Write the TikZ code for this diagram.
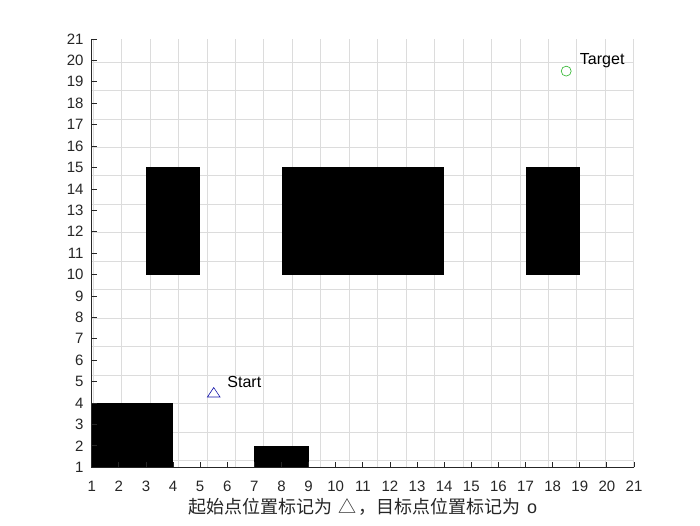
\documentclass[tikz,border=0pt]{standalone}
\usepackage{fontspec}
\setmainfont{Liberation Sans}
\newfontfamily\cjk{Noto Sans CJK SC}
\definecolor{gridgray}{RGB}{220,220,220}
\definecolor{axisgray}{RGB}{38,38,38}
\definecolor{startblue}{RGB}{20,20,170}
\definecolor{targetgreen}{RGB}{40,180,40}
\begin{document}
\begin{tikzpicture}[x=1pt,y=1pt,
  gridline/.style={draw=gridgray, line width=0.6pt},
  obstacle/.style={fill=black},
  axisline/.style={draw=axisgray, line width=0.8pt},
  ticklabel/.style={font=\fontsize{15}{15}\selectfont, inner sep=0pt, text=axisgray},
  marklabel/.style={font=\fontsize{16}{16}\selectfont, inner sep=0pt, anchor=west}]
\useasboundingbox (0,0) rectangle (700,525);
\fill[white] (0,0) rectangle (700,525);
\begin{scope}[shift={(64.585pt,36.285pt)}, x=27.115pt, y=21.415pt]
  % grid
  \draw[gridline] (1,1) grid (21,21);
  % obstacles
  \fill[obstacle] (1,1) rectangle (4,4);
  \fill[obstacle] (7,1) rectangle (9,2);
  \fill[obstacle] (3,10) rectangle (5,15);
  \fill[obstacle] (8,10) rectangle (14,15);
  \fill[obstacle] (17,10) rectangle (19,15);
  % axes
  \draw[axisline] (1,21) -- (1,1) -- (21,1);
  \foreach \i in {1,...,21} {
    \draw[axisline] (\i,1) -- ++(0,5pt);
    \draw[axisline] (1,\i) -- ++(5pt,0);
    \node[ticklabel, anchor=center] (xl\i) at ([yshift=-18.7pt]\i,1) {\i};
    \node[ticklabel, anchor=east] (yl\i) at ([xshift=-8pt]1,\i) {\i};
  }
  % start marker
  \coordinate (s) at (5.5,4.5);
  \draw[startblue, line width=0.6pt] ([shift={(-6.3pt,-4.6pt)}]s) -- ([shift={(6.3pt,-4.6pt)}]s) -- ([shift={(0pt,4.8pt)}]s) -- cycle;
  \node[marklabel] (startlabel) at (6,5) {Start};
  % target marker
  \node[circle, draw=targetgreen, line width=0.6pt, minimum size=10pt, inner sep=0pt] (target) at (18.5,19.5) {};
  \node[marklabel] (targetlabel) at (19,20) {Target};
\end{scope}
\node[font=\fontsize{18}{18}\selectfont, inner sep=0pt, text=axisgray] (xlabel) at (363,18)
  {{\cjk 起始点位置标记为}\hspace{6pt}{\cjk △}\hspace{2pt}{\cjk ，}{\cjk 目标点位置标记为}\hspace{6pt}o};
\end{tikzpicture}
\end{document}
